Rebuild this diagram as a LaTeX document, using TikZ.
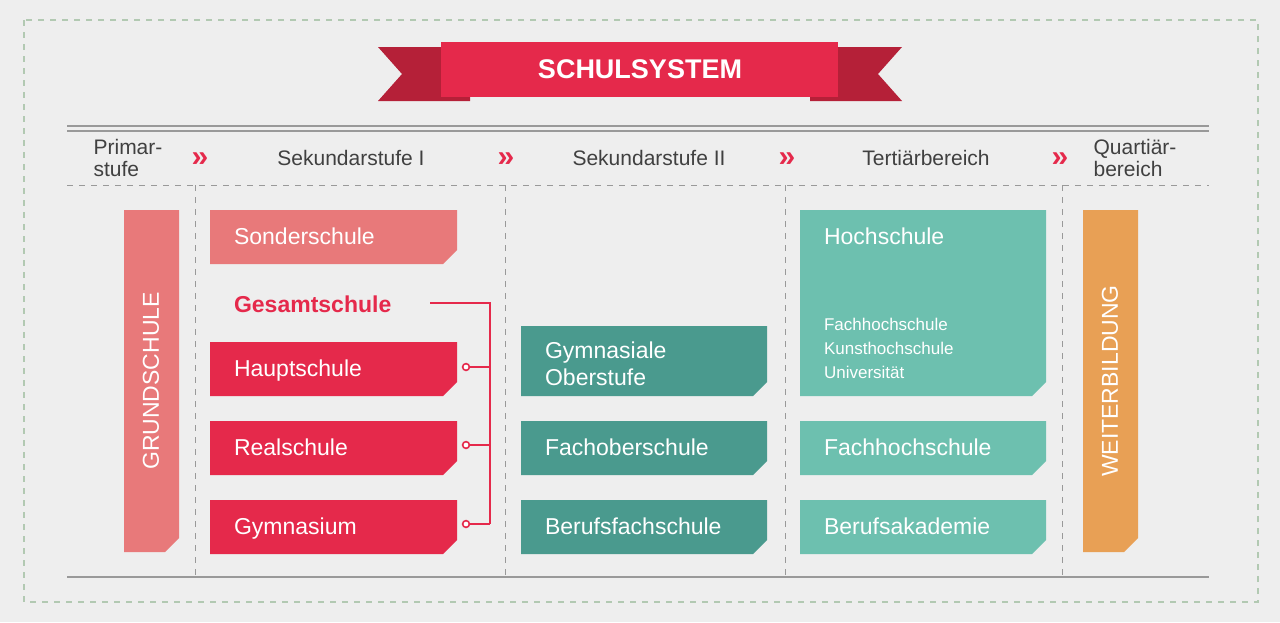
\documentclass[tikz,border=0pt]{standalone}
\usepackage{fontspec}
\setmainfont{Liberation Sans}
\definecolor{bg}{HTML}{EEEEEE}
\definecolor{rosa}{HTML}{E8797A}
\definecolor{rot}{HTML}{E5294B}
\definecolor{dunkelrot}{HTML}{B52038}
\definecolor{petrol}{HTML}{4A9A8E}
\definecolor{mint}{HTML}{6DC0AF}
\definecolor{orange}{HTML}{E8A055}
\definecolor{linie}{HTML}{999999}
\tikzset{
  kopf/.style={font=\fontsize{10.5}{11}\selectfont,text=black!75,align=left},
  pfeil/.style={font=\fontsize{15}{15}\selectfont\bfseries,text=rot},
  label/.style={anchor=base west,font=\fontsize{11.5}{13.5}\selectfont,text=white,align=left},
  klein/.style={anchor=north west,font=\fontsize{8.5}{12}\selectfont,text=white,align=left},
  trenn/.style={dashed,linie,line width=0.4pt},
}
% box with cut lower right corner: name, x1, y1, x2, y2, colour
\newcommand\schulbox[6]{%
  \fill[#6] (#2,#3) -- (#4,#3) -- (#4,#5-14) -- (#4-14,#5) -- (#2,#5) -- cycle;
  \coordinate (#1) at (#2,#3);
  \coordinate (#1-r) at (#4,{(#3+#5)/2});}
\begin{document}
\begin{tikzpicture}[x=0.5pt,y=-0.5pt]
\fill[bg] (0,0) rectangle (1280,622);
\useasboundingbox (0,0) rectangle (1280,622);
\draw[dashed,green!30!black!30,line width=0.6pt] (24,20) rectangle (1258,602);

% banner
\fill[dunkelrot] (378,47) -- (470,47) -- (470,101) -- (378,101) -- (402,74) -- cycle;
\fill[dunkelrot] (810,47) -- (902,47) -- (878,74) -- (902,101) -- (810,101) -- cycle;
\fill[rot] (441,42) rectangle (838,97);
\node[text=white,font=\fontsize{13.5}{14}\selectfont\bfseries] (titel) at (640,69) {SCHULSYSTEM};

% table lines
\draw[linie,line width=0.8pt] (67,126) -- (1209,126);
\draw[linie,line width=0.8pt] (67,131) -- (1209,131);
\draw[trenn] (67,185) -- (1209,185);
\draw[linie,line width=0.8pt] (67,577) -- (1209,577);
\foreach \x in {195,505,785,1062}
  \draw[trenn] (\x,185) -- (\x,577);

% header
\node[kopf] (primar) at (128,158) {Primar-\\stufe};
\node[kopf] (sek1) at (351,158) {Sekundarstufe I};
\node[kopf] (sek2) at (649,158) {Sekundarstufe II};
\node[kopf] (tert) at (926,158) {Tertiärbereich};
\node[kopf] (quart) at (1135,158) {Quartiär-\\bereich};
\foreach \x/\n in {200/p1,506/p2,787/p3,1060/p4}
  \node[pfeil] (\n) at (\x,160) {\guillemotright};

% Primarstufe / Quartaerbereich
\schulbox{grund}{124}{210}{179}{552}{rosa}
\node[rotate=90,text=white,font=\fontsize{11.5}{12}\selectfont] (grundt) at (151,381) {GRUNDSCHULE};
\schulbox{weiter}{1083}{210}{1138}{552}{orange}
\node[rotate=90,text=white,font=\fontsize{11.5}{12}\selectfont] (weitert) at (1110,381) {WEITERBILDUNG};

% Sekundarstufe I
\schulbox{sonder}{210}{210}{457}{264}{rosa}
\node[label] (sondert) at (227,244) {Sonderschule};
\node[anchor=base west,text=rot,font=\fontsize{11.5}{12}\selectfont\bfseries] (gesamt) at (227,312) {Gesamtschule};
\schulbox{haupt}{210}{342}{457}{396}{rot}
\node[label] (hauptt) at (227,376) {Hauptschule};
\schulbox{real}{210}{421}{457}{475}{rot}
\node[label] (realt) at (227,455) {Realschule};
\schulbox{gym}{210}{500}{457}{554}{rot}
\node[label] (gymt) at (227,534) {Gymnasium};
\coordinate (knick) at (490,303);
\coordinate (fuss) at (490,524);
\draw[rot,line width=1pt] (430,303) -- (knick) -- (fuss);
\foreach \n/\y in {haupt/367,real/445,gym/524}{
  \node[circle,draw=rot,fill=white,line width=0.8pt,inner sep=1.2pt] (\n-c) at (466,\y) {};
  \draw[rot,line width=1pt] (\n-c) -- (490,\y);
}

% Sekundarstufe II
\schulbox{ober}{521}{326}{767}{396}{petrol}
\node[label] (obert) at (538,385) {Gymnasiale\\Oberstufe};
\schulbox{fos}{521}{421}{767}{475}{petrol}
\node[label] (fost) at (538,455) {Fachoberschule};
\schulbox{bfs}{521}{500}{767}{554}{petrol}
\node[label] (bfst) at (538,534) {Berufsfachschule};

% Tertiaerbereich
\schulbox{hoch}{800}{210}{1046}{396}{mint}
\node[label] (hocht) at (817,244) {Hochschule};
\node[klein] (hochl) at (817,311) {Fachhochschule\\Kunsthochschule\\Universität};
\schulbox{fh}{800}{421}{1046}{475}{mint}
\node[label] (fht) at (817,455) {Fachhochschule};
\schulbox{ba}{800}{500}{1046}{554}{mint}
\node[label] (bat) at (817,534) {Berufsakademie};
\end{tikzpicture}
\end{document}
